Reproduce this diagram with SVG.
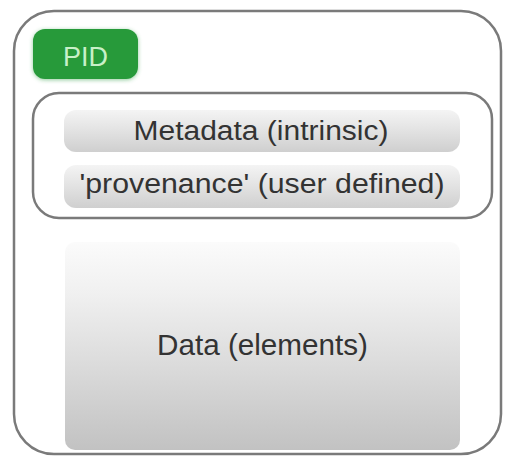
<svg xmlns="http://www.w3.org/2000/svg" width="505" height="456" viewBox="0 0 505 456">
<defs>
<linearGradient id="barG" x1="0" y1="0" x2="0" y2="1">
<stop offset="0" stop-color="#f4f4f4"/>
<stop offset="0.5" stop-color="#e2e2e2"/>
<stop offset="1" stop-color="#cfcfcf"/>
</linearGradient>
<linearGradient id="dataG" x1="0" y1="0" x2="0" y2="1">
<stop offset="0" stop-color="#fbfbfb"/>
<stop offset="0.25" stop-color="#f0f0f0"/>
<stop offset="1" stop-color="#c2c2c2"/>
</linearGradient>
<filter id="glow" x="-20%" y="-20%" width="140%" height="160%">
<feGaussianBlur stdDeviation="2"/>
</filter>
</defs>
<style>
.lbl{font-family:"Liberation Sans",Arial,sans-serif;font-size:27px;fill:#333;text-anchor:middle}
.frame{fill:none;stroke:#7a7a7a;stroke-width:2.5}
</style>
<rect width="505" height="456" fill="#ffffff"/>
<g id="outer">
<rect class="frame" x="14" y="11" width="487" height="443" rx="40"/>
</g>
<g id="pid">
<rect x="33" y="30" width="105" height="50" rx="12" fill="#2a9a3c" opacity="0.5" filter="url(#glow)"/>
<rect x="33" y="29" width="105" height="50" rx="12" fill="#279a3a"/>
<text x="85.5" y="66" class="lbl" style="fill:#c8f0c8;font-size:28px" textLength="45" lengthAdjust="spacingAndGlyphs">PID</text>
</g>
<g id="metadata-group">
<rect class="frame" x="33" y="93" width="459" height="125" rx="26" stroke-width="2"/>
</g>
<g id="metadata">
<rect x="64" y="110" width="396" height="42" rx="12" fill="url(#barG)"/>
<text x="261" y="140" class="lbl" textLength="255" lengthAdjust="spacingAndGlyphs">Metadata (intrinsic)</text>
</g>
<g id="provenance">
<rect x="64" y="165" width="396" height="43" rx="12" fill="url(#barG)"/>
<text x="262" y="193" class="lbl" textLength="365" lengthAdjust="spacingAndGlyphs">'provenance' (user defined)</text>
</g>
<g id="data">
<rect x="65" y="242" width="395" height="208" rx="10" fill="url(#dataG)"/>
<text x="262.5" y="355" class="lbl" style="font-size:29px" textLength="211" lengthAdjust="spacingAndGlyphs">Data (elements)</text>
</g>
<g id="connectors"/>
</svg>
